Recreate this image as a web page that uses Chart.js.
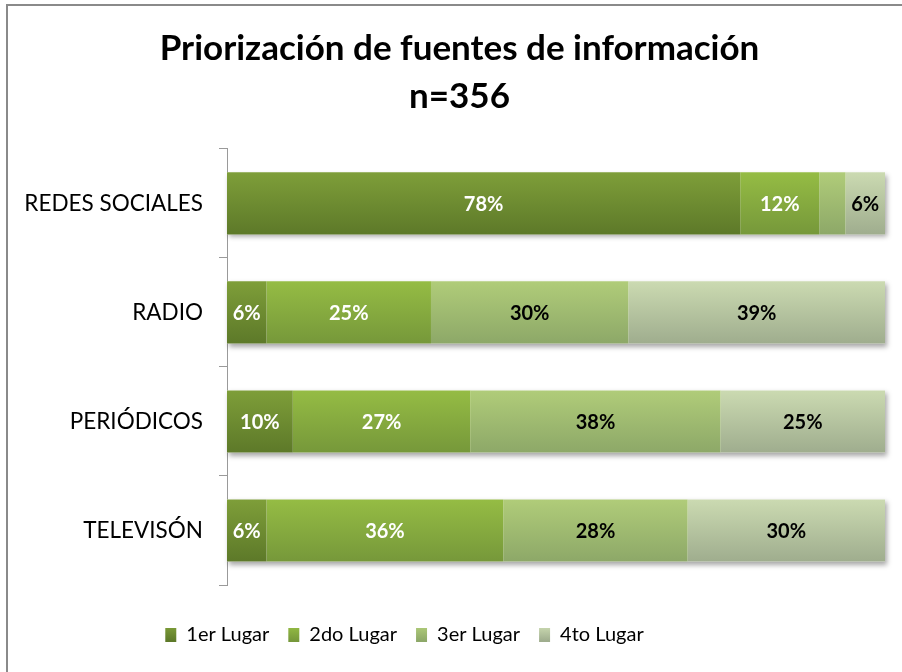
<!DOCTYPE html>
<html>
<head>
<meta charset="utf-8">
<script src="https://cdn.jsdelivr.net/npm/chart.js@4/dist/chart.umd.min.js"></script>
<style>
html, body { margin: 0; padding: 0; background: #fff; overflow: hidden; }
#wrap { position: relative; width: 902px; height: 672px; }
</style>
</head>
<body>
<div id="wrap"><canvas id="myChart" width="902" height="672"></canvas></div>
<script>
const categories = ['REDES SOCIALES', 'RADIO', 'PERIÓDICOS', 'TELEVISÓN'];
const seriesNames = ['1er Lugar', '2do Lugar', '3er Lugar', '4to Lugar'];
const primero = [78, 6, 10, 6];
const segundo = [12, 25, 27, 36];
const tercero = [4, 30, 38, 28];
const cuarto = [6, 39, 25, 30];

// gradient top / bottom per series
const topColors = ['#7e9e39', '#95bc44', '#b0cc79', '#cbdab1'];
const bottomColors = ['#5d7929', '#76983a', '#8da868', '#9fad8e'];
const midColors = ['#6c8c31', '#87ab3f', '#a0bb72', '#b6c4a0'];
const labelColors = ['#ffffff', '#ffffff', '#000000', '#000000'];

const FONT = 'Lato, "Open Sans", sans-serif';

function barGradient(si) {
  return function (ctx) {
    const chart = ctx.chart;
    const y = chart.scales.y;
    if (!chart.chartArea || !y || ctx.dataIndex === undefined) return midColors[si];
    const cy = y.getPixelForValue(ctx.dataIndex);
    const half = (y.height / categories.length) * 0.57 / 2;
    const g = chart.ctx.createLinearGradient(0, cy - half, 0, cy + half);
    g.addColorStop(0, topColors[si]);
    g.addColorStop(1, bottomColors[si]);
    return g;
  };
}

function legendGradient(chart, si) {
  const g = chart.ctx.createLinearGradient(0, 626, 0, 641);
  g.addColorStop(0, topColors[si]);
  g.addColorStop(1, bottomColors[si]);
  return g;
}

const allSeries = [primero, segundo, tercero, cuarto];

const data = {
  labels: categories,
  datasets: allSeries.map((vals, i) => ({
    label: seriesNames[i],
    data: vals,
    backgroundColor: barGradient(i),
    borderWidth: 0,
    categoryPercentage: 1,
    barPercentage: 0.57
  }))
};

// frame around the chart
const framePlugin = {
  id: 'frame',
  beforeDraw(chart) {
    const c = chart.ctx;
    c.save();
    c.fillStyle = '#fff';
    c.fillRect(0, 0, chart.width, chart.height);
    c.strokeStyle = '#8a8a8a';
    c.lineWidth = 2;
    c.strokeRect(7, 5, chart.width + 20, chart.height + 20);
    c.restore();
  },
  afterLayout(chart) {
    // title centred on the frame, legend a bit left of it, as in the original
    chart.titleBlock.left += 17;
    chart.titleBlock.right += 17;
    chart.legend.left -= 38;
    chart.legend.right -= 38;
  }
};

// soft shadow under each full bar
const shadowPlugin = {
  id: 'barShadow',
  beforeDatasetsDraw(chart) {
    const c = chart.ctx;
    const first = chart.getDatasetMeta(0).data;
    const last = chart.getDatasetMeta(chart.data.datasets.length - 1).data;
    c.save();
    c.shadowColor = 'rgba(0,0,0,0.35)';
    c.shadowBlur = 5;
    c.shadowOffsetX = 2;
    c.shadowOffsetY = 3;
    c.fillStyle = '#fff';
    first.forEach((el, i) => {
      const a = el.getProps(['base', 'y', 'height'], true);
      const b = last[i].getProps(['x'], true);
      c.fillRect(a.base, a.y - a.height / 2, b.x - a.base, a.height);
    });
    c.restore();
  }
};

// percentage labels inside segments
const labelPlugin = {
  id: 'pctLabels',
  afterDatasetsDraw(chart) {
    const c = chart.ctx;
    c.save();
    c.font = 'bold 20px ' + FONT;
    c.textAlign = 'center';
    c.textBaseline = 'middle';
    chart.data.datasets.forEach((ds, si) => {
      chart.getDatasetMeta(si).data.forEach((el, i) => {
        const v = ds.data[i];
        if (v < 5) return;
        const p = el.getProps(['x', 'base', 'y'], true);
        c.fillStyle = labelColors[si];
        c.fillText(v + '%', (p.x + p.base) / 2, p.y + 1);
      });
    });
    c.restore();
  }
};

const config = {
  type: 'bar',
  data: data,
  options: {
    indexAxis: 'y',
    responsive: false,
    animation: false,
    layout: {
      padding: { left: 0, right: 17, top: 0, bottom: 17 }
    },
    plugins: {
      title: {
        display: true,
        text: ['Priorización de fuentes de información', 'n=356'],
        color: '#000',
        font: { family: FONT, size: 35, weight: 'bold', lineHeight: 1.37 },
        padding: { top: 25, bottom: 28 }
      },
      legend: {
        position: 'bottom',
        labels: {
          color: '#000',
          font: { family: FONT, size: 20 },
          boxWidth: 11,
          boxHeight: 14,
          padding: 19,
          generateLabels(chart) {
            return chart.data.datasets.map((ds, i) => ({
              text: ds.label,
              fillStyle: legendGradient(chart, i),
              strokeStyle: midColors[i],
              lineWidth: 0,
              datasetIndex: i
            }));
          }
        }
      },
      tooltip: { enabled: false }
    },
    scales: {
      x: {
        stacked: true,
        min: 0,
        max: 100,
        display: true,
        afterFit(scale) { scale.height = 21; },
        ticks: { display: false },
        grid: { display: false },
        border: { display: false }
      },
      y: {
        stacked: true,
        afterFit(scale) { scale.width = 227; },
        ticks: {
          color: '#000',
          font: { family: FONT, size: 22.5 },
          padding: 16
        },
        grid: {
          offset: true,
          drawOnChartArea: false,
          drawTicks: true,
          tickLength: 8,
          color: '#9a9a9a'
        },
        border: { display: true, color: '#9a9a9a', width: 1 }
      }
    }
  },
  plugins: [framePlugin, shadowPlugin, labelPlugin]
};

const myChart = new Chart(document.getElementById('myChart'), config);
</script>
</body>
</html>
